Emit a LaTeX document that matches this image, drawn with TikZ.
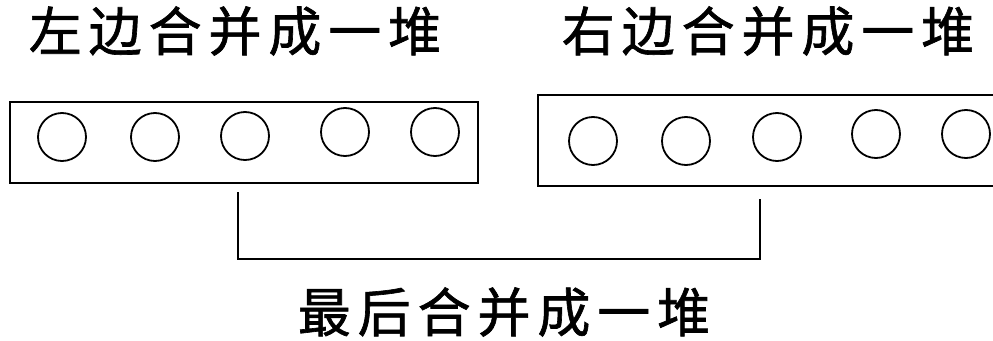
\documentclass[tikz,border=0pt]{standalone}
\usepackage{fontspec}
\newfontfamily\cjk[LetterSpace=13,FakeBold=1.2]{Noto Sans CJK SC}
\begin{document}
\begin{tikzpicture}[x=1pt,y=-1pt,
  box/.style={draw,line width=2.6pt,inner sep=0pt},
  ball/.style={draw,circle,line width=1.8pt,minimum size=48pt,inner sep=0pt},
  title/.style={font=\cjk\fontsize{53}{57}\selectfont,inner sep=0pt},
  link/.style={line width=2.4pt}]
\useasboundingbox (0,0) rectangle (993,340);
\clip (0,0) rectangle (993,340);
% titles
\node[title] (tl) at (235,31) {左边合并成一堆};
\node[title] (tr) at (768,31) {右边合并成一堆};
\node[title] (tb) at (504,312) {最后合并成一堆};
% boxes
\node[box,minimum width=468pt,minimum height=81pt] (lbox) at (244,142.5) {};
\node[box,minimum width=480pt,minimum height=91pt] (rbox) at (778,140.5) {};
% balls
\node[ball] (l1) at (62,137) {};
\node[ball] (l2) at (155,137) {};
\node[ball] (l3) at (245,136) {};
\node[ball] (l4) at (345,132) {};
\node[ball] (l5) at (435,132) {};
\node[ball] (r1) at (593,141) {};
\node[ball] (r2) at (686,141) {};
\node[ball] (r3) at (777,137) {};
\node[ball] (r4) at (876,134) {};
\node[ball] (r5) at (966,134) {};
% bracket
\coordinate (a) at (238,192);
\coordinate (b) at (760,199);
\coordinate (c) at (238,259);
\coordinate (d) at (760,259);
\draw[link] (a) -- (c) -- (d) -- (b);
\end{tikzpicture}
\end{document}
